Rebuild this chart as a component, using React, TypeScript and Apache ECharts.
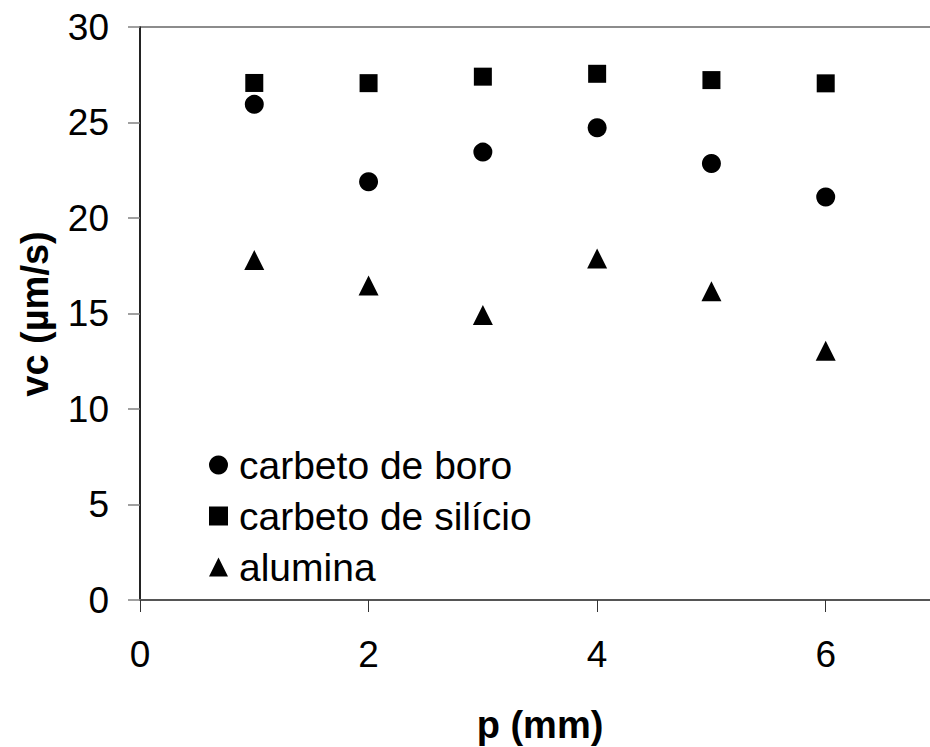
import React, { useEffect, useRef } from "react";
import * as echarts from "echarts";

const xValues = [1, 2, 3, 4, 5, 6];
const boroValues = [25.95, 21.9, 23.45, 24.72, 22.85, 21.1];
const silicioValues = [27.07, 27.06, 27.4, 27.55, 27.22, 27.05];
const aluminaValues = [17.8, 16.47, 14.92, 17.88, 16.17, 13.05];
const seriesNames = ["carbeto de boro", "carbeto de silício", "alumina"];
const xAxisTitle = "p (mm)";
const yAxisTitle = "vc (µm/s)";

const FONT = '"Liberation Sans", Arial, sans-serif';

const pairs = (ys: number[]) => xValues.map((x, i) => [x, ys[i]]);

export default function App() {
  const ref = useRef<HTMLDivElement>(null);
  useEffect(() => {
    if (!ref.current) return;
    const chart = echarts.init(ref.current, undefined, { renderer: "svg" });
    chart.setOption({
      animation: false,
      backgroundColor: "#ffffff",
      grid: {
        left: 140,
        top: 27,
        width: 800,
        height: 573,
        show: true,
        borderColor: "#8c8c8c",
        borderWidth: 2,
        containLabel: false,
        outerBoundsMode: "none",
      },
      xAxis: {
        type: "value",
        min: 0,
        max: 7,
        interval: 2,
        axisLine: { show: true, lineStyle: { color: "#555555", width: 2 } },
        axisTick: { show: true, inside: false, length: 12, lineStyle: { color: "#333333", width: 1 } },
        axisLabel: {
          margin: 36,
          fontSize: 37,
          fontFamily: FONT,
          color: "#000",
          formatter: (v: number) => (v === 7 ? "" : String(v)),
        },
        splitLine: { show: false },
      },
      yAxis: {
        type: "value",
        min: 0,
        max: 30,
        interval: 5,
        axisLine: { show: true, lineStyle: { color: "#000000", width: 1.5 } },
        axisTick: { show: true, inside: false, length: 12, lineStyle: { color: "#808080", width: 1.5 } },
        axisLabel: {
          margin: 31,
          fontSize: 37,
          fontFamily: FONT,
          color: "#000",
        },
        splitLine: { show: false },
      },
      legend: {
        show: true,
        orient: "vertical",
        left: 204,
        top: 440,
        itemWidth: 19,
        itemHeight: 19,
        itemGap: 11,
        itemStyle: { opacity: 1 },
        textStyle: {
          fontSize: 39,
          fontFamily: FONT,
          color: "#000",
          lineHeight: 40,
          padding: [0, 0, 0, 6],
        },
        data: seriesNames,
      },
      graphic: [
        {
          type: "text",
          x: 540,
          y: 725,
          style: {
            text: xAxisTitle,
            font: `bold 38px ${FONT}`,
            fill: "#000",
            align: "center",
            verticalAlign: "middle",
          },
        },
        {
          type: "text",
          x: 35,
          y: 314,
          rotation: Math.PI / 2,
          style: {
            text: yAxisTitle,
            font: `bold 38px ${FONT}`,
            fill: "#000",
            align: "center",
            verticalAlign: "middle",
          },
        },
      ],
      series: [
        {
          name: seriesNames[0],
          type: "scatter",
          symbol: "circle",
          symbolSize: 19,
          itemStyle: { color: "#000", opacity: 1 },
          data: pairs(boroValues),
        },
        {
          name: seriesNames[1],
          type: "scatter",
          symbol: "rect",
          symbolSize: 18,
          itemStyle: { color: "#000", opacity: 1 },
          data: pairs(silicioValues),
        },
        {
          name: seriesNames[2],
          type: "scatter",
          symbol: "triangle",
          symbolSize: 20,
          itemStyle: { color: "#000", opacity: 1 },
          data: pairs(aluminaValues),
        },
      ],
    });
    return () => chart.dispose();
  }, []);
  return (
    <div
      ref={ref}
      style={{ position: "absolute", left: 0, top: 0, width: 930, height: 747 }}
    />
  );
}
